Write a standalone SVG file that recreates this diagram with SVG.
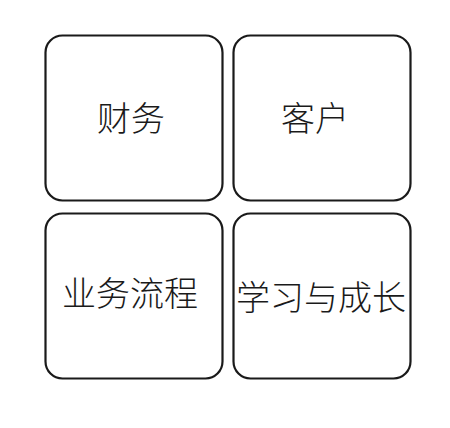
<svg xmlns="http://www.w3.org/2000/svg" width="450" height="428" viewBox="0 0 450 428">
<style>
.box{fill:#ffffff;stroke:#1a1a1a;stroke-width:2.2}
.lbl{font-family:"Noto Sans CJK SC","Noto Sans CJK JP",sans-serif;font-size:34px;font-weight:300;fill:#1a1a1a;text-anchor:middle}
</style>
<rect x="0" y="0" width="450" height="428" fill="#ffffff"/>
<g id="node-finance">
<rect class="box" x="45.5" y="35.5" width="177" height="165" rx="17"/>
<text class="lbl" x="131" y="131">财务</text>
</g>
<g id="node-customer">
<rect class="box" x="233.5" y="35.5" width="177" height="165" rx="17"/>
<text class="lbl" x="315" y="131">客户</text>
</g>
<g id="node-process">
<rect class="box" x="45.5" y="213.5" width="177" height="165" rx="17"/>
<text class="lbl" x="130" y="306">业务流程</text>
</g>
<g id="node-learning">
<rect class="box" x="233.5" y="213.5" width="177" height="165" rx="17"/>
<text class="lbl" x="321" y="310">学习与成长</text>
</g>
<g id="connectors"></g>
</svg>
